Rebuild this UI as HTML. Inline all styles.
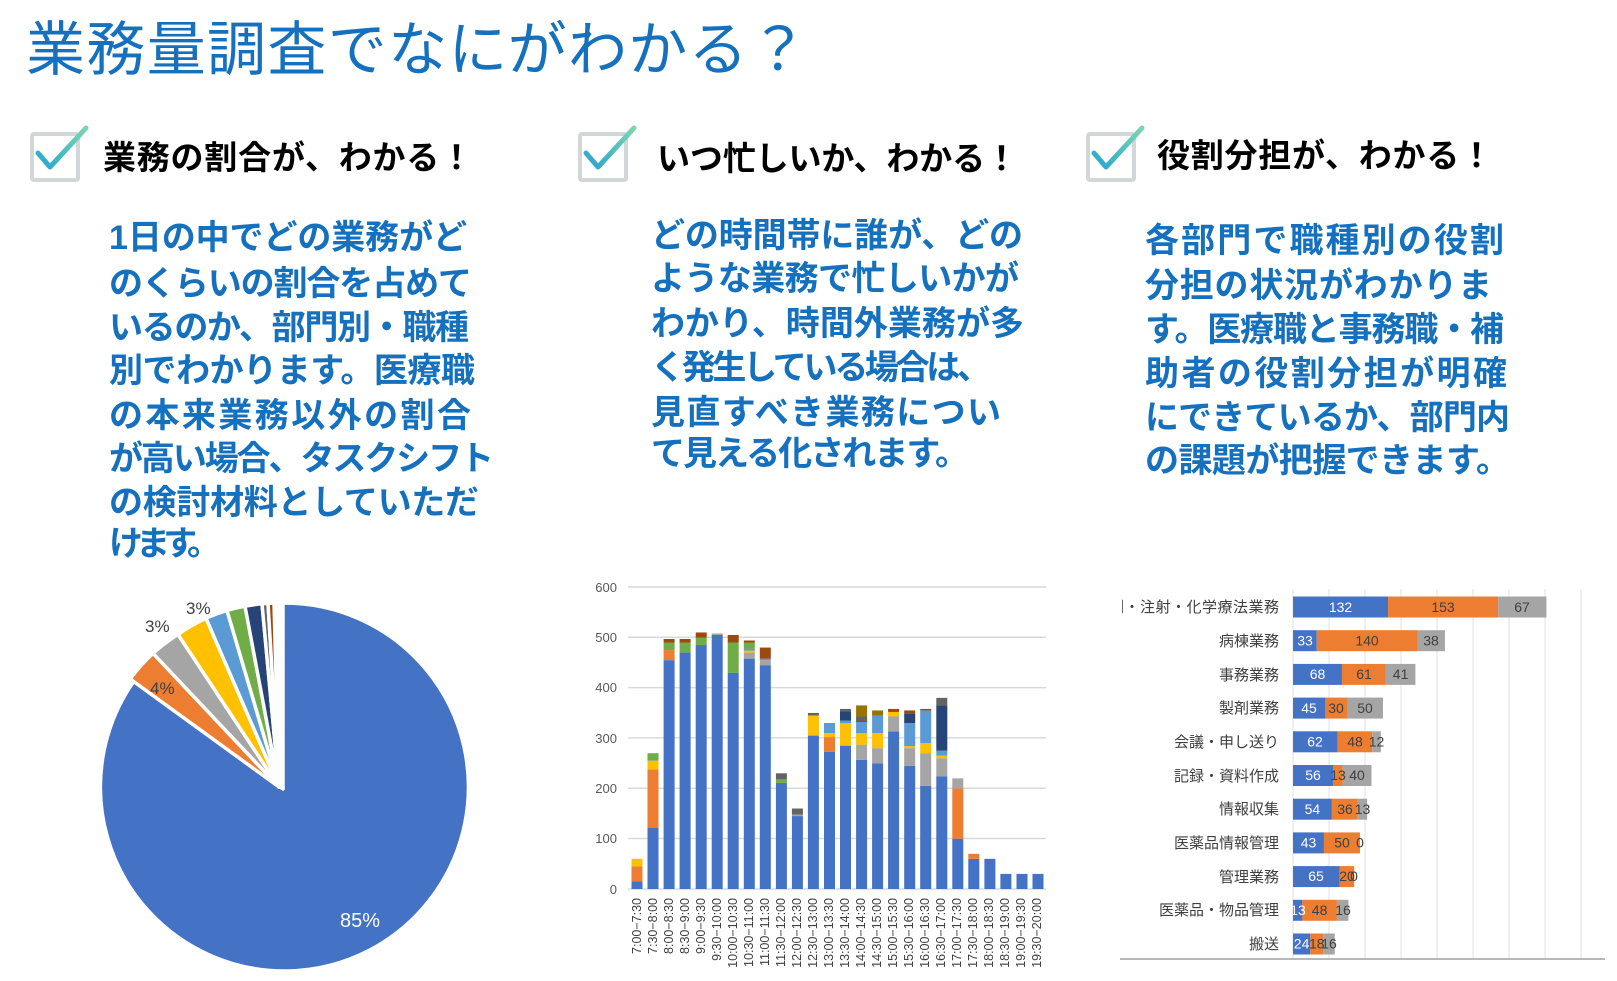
<!DOCTYPE html>
<html><head><meta charset="utf-8"><style>
html,body{margin:0;padding:0;background:#fff;}
svg{display:block;}
text{font-family:"Liberation Sans","Noto Sans CJK JP",sans-serif;}
.b{fill:#1570be;font-weight:bold;font-size:34px;}
.h{fill:#000;font-weight:bold;font-size:33px;}
.ax{fill:#595959;font-size:13px;}
.xl{fill:#404040;font-size:12.5px;}
.cl{fill:#404040;font-size:15px;}
.vw{fill:#fff;font-size:14px;}
.vd{fill:#404040;font-size:14px;}
</style></head><body>
<svg width="1617" height="981" viewBox="0 0 1617 981" xmlns="http://www.w3.org/2000/svg">
<defs>
<linearGradient id="ck" x1="0" y1="1" x2="1" y2="0"><stop offset="0" stop-color="#2aa5cf"/><stop offset="1" stop-color="#7dd6b0"/></linearGradient>
<clipPath id="clip3"><rect x="1122" y="580" width="495" height="401"/></clipPath>
</defs>
<text x="26" y="70" font-size="59" fill="#1570be" textLength="782">業務量調査でなにがわかる？</text>

<g>
<rect x="32" y="134" width="46" height="46" fill="none" stroke="#d3d6d9" stroke-width="4" rx="2"/>
<polyline points="38,153 50,167 86,128" fill="none" stroke="url(#ck)" stroke-width="5" stroke-linecap="round" stroke-linejoin="round"/>
<rect x="580" y="134" width="46" height="46" fill="none" stroke="#d3d6d9" stroke-width="4" rx="2"/>
<polyline points="586,153 598,167 634,128" fill="none" stroke="url(#ck)" stroke-width="5" stroke-linecap="round" stroke-linejoin="round"/>
<rect x="1088" y="134" width="46" height="46" fill="none" stroke="#d3d6d9" stroke-width="4" rx="2"/>
<polyline points="1094,153 1106,167 1142,128" fill="none" stroke="url(#ck)" stroke-width="5" stroke-linecap="round" stroke-linejoin="round"/>
</g>
<text class="h" x="103" y="169" textLength="370">業務の割合が、わかる！</text>
<text class="h" x="657" y="170" textLength="361">いつ忙しいか、わかる！</text>
<text class="h" x="1157" y="167" textLength="336">役割分担が、わかる！</text>

<text class="b" x="109" y="249" textLength="358">1日の中でどの業務がど</text>
<text class="b" x="109" y="295" textLength="363">のくらいの割合を占めて</text>
<text class="b" x="109" y="339" textLength="360">いるのか、部門別・職種</text>
<text class="b" x="109" y="382" textLength="366">別でわかります。医療職</text>
<text class="b" x="109" y="427" textLength="362">の本来業務以外の割合</text>
<text class="b" x="109" y="470" textLength="385">が高い場合、タスクシフト</text>
<text class="b" x="109" y="514" textLength="370">の検討材料としていただ</text>
<text class="b" x="109" y="555" textLength="112">けます。</text>

<text class="b" x="651" y="247" textLength="372">どの時間帯に誰が、どの</text>
<text class="b" x="651" y="290" textLength="368">ような業務で忙しいかが</text>
<text class="b" x="651" y="335" textLength="373">わかり、時間外業務が多</text>
<text class="b" x="651" y="379" textLength="340">く発生している場合は、</text>
<text class="b" x="651" y="424" textLength="350">見直すべき業務につい</text>
<text class="b" x="651" y="465" textLength="318">て見える化されます。</text>

<text class="b" x="1145" y="252" textLength="359">各部門で職種別の役割</text>
<text class="b" x="1145" y="297" textLength="347">分担の状況がわかりま</text>
<text class="b" x="1145" y="341" textLength="359">す。医療職と事務職・補</text>
<text class="b" x="1145" y="385" textLength="362">助者の役割分担が明確</text>
<text class="b" x="1145" y="429" textLength="365">にできているか、部門内</text>
<text class="b" x="1145" y="472" textLength="365">の課題が把握できます。</text>

<g stroke="#fff" stroke-width="3.5" stroke-linejoin="round">
<path d="M283,789 L283,603 A184,184 0 1 1 134.1,680.9 Z" fill="#4472c4"/>
<path d="M279,787 L130.1,678.9 A184,184 0 0 1 153.0,653.3 Z" fill="#ed7d31"/>
<path d="M279,787 L153.0,653.3 A184,184 0 0 1 178.0,634.4 Z" fill="#a5a5a5"/>
<path d="M279,787 L178.0,634.4 A184,184 0 0 1 206.0,618.2 Z" fill="#ffc000"/>
<path d="M279,787 L206.0,618.2 A184,184 0 0 1 227.0,610.5 Z" fill="#5b9bd5"/>
<path d="M279,787 L227.0,610.5 A184,184 0 0 1 245.0,606.2 Z" fill="#70ad47"/>
<path d="M279,787 L245.0,606.2 A184,184 0 0 1 262.0,603.8 Z" fill="#264478"/>
<path d="M279,787 L262.0,603.8 A184,184 0 0 1 268.0,603.3 Z" fill="#636363"/>
<path d="M279,787 L268.0,603.3 A184,184 0 0 1 274.0,603.1 Z" fill="#9e480e"/>
</g>
<text x="340" y="927" font-size="20" fill="#fff">85%</text>
<text x="150" y="694" font-size="17" fill="#404040">4%</text>
<text x="145" y="632" font-size="17" fill="#404040">3%</text>
<text x="186" y="614" font-size="17" fill="#404040">3%</text>

<g stroke="#d9d9d9" stroke-width="1.5">
<line x1="628" y1="587" x2="1046" y2="587"/><line x1="628" y1="637.3" x2="1046" y2="637.3"/>
<line x1="628" y1="687.6" x2="1046" y2="687.6"/><line x1="628" y1="737.9" x2="1046" y2="737.9"/>
<line x1="628" y1="788.2" x2="1046" y2="788.2"/><line x1="628" y1="838.5" x2="1046" y2="838.5"/>
<line x1="628" y1="889" x2="1046" y2="889"/>
</g>
<g class="ax" text-anchor="end">
<text x="617" y="592">600</text><text x="617" y="642">500</text><text x="617" y="692">400</text>
<text x="617" y="743">300</text><text x="617" y="793">200</text><text x="617" y="843">100</text><text x="617" y="894">0</text>
</g>
<g transform="translate(0,889) scale(1,-0.503)">
<rect x="631.5" y="0" width="11" height="15" fill="#4472c4"/><rect x="631.5" y="15" width="11" height="30" fill="#ed7d31"/><rect x="631.5" y="45" width="11" height="15" fill="#ffc000"/>
<rect x="647.5" y="0" width="11" height="122" fill="#4472c4"/><rect x="647.5" y="122" width="11" height="116" fill="#ed7d31"/><rect x="647.5" y="238" width="11" height="17" fill="#ffc000"/><rect x="647.5" y="255" width="11" height="15" fill="#70ad47"/>
<rect x="663.6" y="0" width="11" height="455" fill="#4472c4"/><rect x="663.6" y="455" width="11" height="20" fill="#ed7d31"/><rect x="663.6" y="475" width="11" height="15" fill="#70ad47"/><rect x="663.6" y="490" width="11" height="7" fill="#9e480e"/>
<rect x="679.6" y="0" width="11" height="470" fill="#4472c4"/><rect x="679.6" y="470" width="11" height="20" fill="#70ad47"/><rect x="679.6" y="490" width="11" height="7" fill="#9e480e"/>
<rect x="695.7" y="0" width="11" height="485" fill="#4472c4"/><rect x="695.7" y="485" width="11" height="15" fill="#70ad47"/><rect x="695.7" y="500" width="11" height="10" fill="#9e480e"/>
<rect x="711.7" y="0" width="11" height="505" fill="#4472c4"/><rect x="711.7" y="505" width="11" height="3" fill="#a5a5a5"/>
<rect x="727.7" y="0" width="11" height="430" fill="#4472c4"/><rect x="727.7" y="430" width="11" height="60" fill="#70ad47"/><rect x="727.7" y="490" width="11" height="15" fill="#9e480e"/>
<rect x="743.8" y="0" width="11" height="458" fill="#4472c4"/><rect x="743.8" y="458" width="11" height="12" fill="#a5a5a5"/><rect x="743.8" y="470" width="11" height="4" fill="#ffc000"/><rect x="743.8" y="474" width="11" height="4" fill="#5b9bd5"/><rect x="743.8" y="478" width="11" height="12" fill="#70ad47"/><rect x="743.8" y="490" width="11" height="4" fill="#9e480e"/>
<rect x="759.8" y="0" width="11" height="445" fill="#4472c4"/><rect x="759.8" y="445" width="11" height="10" fill="#a5a5a5"/><rect x="759.8" y="455" width="11" height="3" fill="#5b9bd5"/><rect x="759.8" y="458" width="11" height="22" fill="#9e480e"/>
<rect x="775.9" y="0" width="11" height="211" fill="#4472c4"/><rect x="775.9" y="211" width="11" height="7" fill="#70ad47"/><rect x="775.9" y="218" width="11" height="12" fill="#636363"/>
<rect x="791.9" y="0" width="11" height="145" fill="#4472c4"/><rect x="791.9" y="145" width="11" height="3" fill="#a5a5a5"/><rect x="791.9" y="148" width="11" height="12" fill="#636363"/>
<rect x="807.9" y="0" width="11" height="305" fill="#4472c4"/><rect x="807.9" y="305" width="11" height="40" fill="#ffc000"/><rect x="807.9" y="345" width="11" height="5" fill="#636363"/>
<rect x="824.0" y="0" width="11" height="273" fill="#4472c4"/><rect x="824.0" y="273" width="11" height="29" fill="#ed7d31"/><rect x="824.0" y="302" width="11" height="8" fill="#ffc000"/><rect x="824.0" y="310" width="11" height="20" fill="#5b9bd5"/>
<rect x="840.0" y="0" width="11" height="285" fill="#4472c4"/><rect x="840.0" y="285" width="11" height="45" fill="#ffc000"/><rect x="840.0" y="330" width="11" height="5" fill="#5b9bd5"/><rect x="840.0" y="335" width="11" height="18" fill="#264478"/><rect x="840.0" y="353" width="11" height="5" fill="#636363"/>
<rect x="856.1" y="0" width="11" height="257" fill="#4472c4"/><rect x="856.1" y="257" width="11" height="30" fill="#a5a5a5"/><rect x="856.1" y="287" width="11" height="23" fill="#ffc000"/><rect x="856.1" y="310" width="11" height="22" fill="#5b9bd5"/><rect x="856.1" y="332" width="11" height="3" fill="#9e480e"/><rect x="856.1" y="335" width="11" height="8" fill="#636363"/><rect x="856.1" y="343" width="11" height="22" fill="#997300"/>
<rect x="872.1" y="0" width="11" height="250" fill="#4472c4"/><rect x="872.1" y="250" width="11" height="30" fill="#a5a5a5"/><rect x="872.1" y="280" width="11" height="30" fill="#ffc000"/><rect x="872.1" y="310" width="11" height="35" fill="#5b9bd5"/><rect x="872.1" y="345" width="11" height="10" fill="#997300"/>
<rect x="888.1" y="0" width="11" height="313" fill="#4472c4"/><rect x="888.1" y="313" width="11" height="30" fill="#a5a5a5"/><rect x="888.1" y="343" width="11" height="9" fill="#ffc000"/><rect x="888.1" y="352" width="11" height="6" fill="#9e480e"/>
<rect x="904.2" y="0" width="11" height="245" fill="#4472c4"/><rect x="904.2" y="245" width="11" height="35" fill="#a5a5a5"/><rect x="904.2" y="280" width="11" height="4" fill="#ffc000"/><rect x="904.2" y="284" width="11" height="46" fill="#5b9bd5"/><rect x="904.2" y="330" width="11" height="18" fill="#264478"/><rect x="904.2" y="348" width="11" height="7" fill="#9e480e"/>
<rect x="920.2" y="0" width="11" height="205" fill="#4472c4"/><rect x="920.2" y="205" width="11" height="65" fill="#a5a5a5"/><rect x="920.2" y="270" width="11" height="20" fill="#ffc000"/><rect x="920.2" y="290" width="11" height="65" fill="#5b9bd5"/><rect x="920.2" y="355" width="11" height="3" fill="#9e480e"/>
<rect x="936.3" y="0" width="11" height="224" fill="#4472c4"/><rect x="936.3" y="224" width="11" height="36" fill="#a5a5a5"/><rect x="936.3" y="260" width="11" height="5" fill="#ffc000"/><rect x="936.3" y="265" width="11" height="10" fill="#5b9bd5"/><rect x="936.3" y="275" width="11" height="90" fill="#264478"/><rect x="936.3" y="365" width="11" height="15" fill="#636363"/>
<rect x="952.3" y="0" width="11" height="100" fill="#4472c4"/><rect x="952.3" y="100" width="11" height="100" fill="#ed7d31"/><rect x="952.3" y="200" width="11" height="20" fill="#a5a5a5"/>
<rect x="968.3" y="0" width="11" height="60" fill="#4472c4"/><rect x="968.3" y="60" width="11" height="10" fill="#ed7d31"/>
<rect x="984.4" y="0" width="11" height="60" fill="#4472c4"/>
<rect x="1000.4" y="0" width="11" height="30" fill="#4472c4"/>
<rect x="1016.5" y="0" width="11" height="30" fill="#4472c4"/>
<rect x="1032.5" y="0" width="11" height="30" fill="#4472c4"/>
</g>
<g class="xl" text-anchor="end">
<text transform="translate(641,898) rotate(-90)">7:00−7:30</text>
<text transform="translate(657,898) rotate(-90)">7:30−8:00</text>
<text transform="translate(673,898) rotate(-90)">8:00−8:30</text>
<text transform="translate(689,898) rotate(-90)">8:30−9:00</text>
<text transform="translate(705,898) rotate(-90)">9:00−9:30</text>
<text transform="translate(721,898) rotate(-90)">9:30−10:00</text>
<text transform="translate(737,898) rotate(-90)">10:00−10:30</text>
<text transform="translate(753,898) rotate(-90)">10:30−11:00</text>
<text transform="translate(769,898) rotate(-90)">11:00−11:30</text>
<text transform="translate(785,898) rotate(-90)">11:30−12:00</text>
<text transform="translate(801,898) rotate(-90)">12:00−12:30</text>
<text transform="translate(817,898) rotate(-90)">12:30−13:00</text>
<text transform="translate(833,898) rotate(-90)">13:00−13:30</text>
<text transform="translate(849,898) rotate(-90)">13:30−14:00</text>
<text transform="translate(865,898) rotate(-90)">14:00−14:30</text>
<text transform="translate(881,898) rotate(-90)">14:30−15:00</text>
<text transform="translate(897,898) rotate(-90)">15:00−15:30</text>
<text transform="translate(913,898) rotate(-90)">15:30−16:00</text>
<text transform="translate(929,898) rotate(-90)">16:00−16:30</text>
<text transform="translate(945,898) rotate(-90)">16:30−17:00</text>
<text transform="translate(961,898) rotate(-90)">17:00−17:30</text>
<text transform="translate(977,898) rotate(-90)">17:30−18:00</text>
<text transform="translate(993,898) rotate(-90)">18:00−18:30</text>
<text transform="translate(1009,898) rotate(-90)">18:30−19:00</text>
<text transform="translate(1025,898) rotate(-90)">19:00−19:30</text>
<text transform="translate(1041,898) rotate(-90)">19:30−20:00</text>
</g>

<g stroke="#e0e0e0" stroke-width="1">
<line x1="1293" y1="589" x2="1293" y2="959"/><line x1="1329" y1="589" x2="1329" y2="959"/>
<line x1="1365" y1="589" x2="1365" y2="959"/><line x1="1401" y1="589" x2="1401" y2="959"/>
<line x1="1437" y1="589" x2="1437" y2="959"/><line x1="1473" y1="589" x2="1473" y2="959"/>
<line x1="1509" y1="589" x2="1509" y2="959"/><line x1="1545" y1="589" x2="1545" y2="959"/>
<line x1="1581" y1="589" x2="1581" y2="959"/>
</g>
<line x1="1120" y1="959" x2="1605" y2="959" stroke="#a0a0a0" stroke-width="1.5"/>
<g transform="translate(1293,0) scale(0.72,1)">
<rect x="0" y="596.5" width="132" height="21" fill="#4472c4"/><rect x="132" y="596.5" width="153" height="21" fill="#ed7d31"/><rect x="285" y="596.5" width="67" height="21" fill="#a5a5a5"/>
<rect x="0" y="630.2" width="33" height="21" fill="#4472c4"/><rect x="33" y="630.2" width="140" height="21" fill="#ed7d31"/><rect x="173" y="630.2" width="38" height="21" fill="#a5a5a5"/>
<rect x="0" y="663.9" width="68" height="21" fill="#4472c4"/><rect x="68" y="663.9" width="61" height="21" fill="#ed7d31"/><rect x="129" y="663.9" width="41" height="21" fill="#a5a5a5"/>
<rect x="0" y="697.6" width="45" height="21" fill="#4472c4"/><rect x="45" y="697.6" width="30" height="21" fill="#ed7d31"/><rect x="75" y="697.6" width="50" height="21" fill="#a5a5a5"/>
<rect x="0" y="731.3" width="62" height="21" fill="#4472c4"/><rect x="62" y="731.3" width="48" height="21" fill="#ed7d31"/><rect x="110" y="731.3" width="12" height="21" fill="#a5a5a5"/>
<rect x="0" y="765.0" width="56" height="21" fill="#4472c4"/><rect x="56" y="765.0" width="13" height="21" fill="#ed7d31"/><rect x="69" y="765.0" width="40" height="21" fill="#a5a5a5"/>
<rect x="0" y="798.7" width="54" height="21" fill="#4472c4"/><rect x="54" y="798.7" width="36" height="21" fill="#ed7d31"/><rect x="90" y="798.7" width="13" height="21" fill="#a5a5a5"/>
<rect x="0" y="832.4" width="43" height="21" fill="#4472c4"/><rect x="43" y="832.4" width="50" height="21" fill="#ed7d31"/>
<rect x="0" y="866.1" width="65" height="21" fill="#4472c4"/><rect x="65" y="866.1" width="20" height="21" fill="#ed7d31"/>
<rect x="0" y="899.8" width="13" height="21" fill="#4472c4"/><rect x="13" y="899.8" width="48" height="21" fill="#ed7d31"/><rect x="61" y="899.8" width="16" height="21" fill="#a5a5a5"/>
<rect x="0" y="933.5" width="24" height="21" fill="#4472c4"/><rect x="24" y="933.5" width="18" height="21" fill="#ed7d31"/><rect x="42" y="933.5" width="16" height="21" fill="#a5a5a5"/>
</g>
<g class="cl" text-anchor="end">
<text x="1279" y="612" clip-path="url(#clip3)" textLength="170">剤・注射・化学療法業務</text>
<text x="1279" y="646">病棟業務</text>
<text x="1279" y="680">事務業務</text>
<text x="1279" y="713">製剤業務</text>
<text x="1279" y="747">会議・申し送り</text>
<text x="1279" y="781">記録・資料作成</text>
<text x="1279" y="814">情報収集</text>
<text x="1279" y="848">医薬品情報管理</text>
<text x="1279" y="882">管理業務</text>
<text x="1279" y="915">医薬品・物品管理</text>
<text x="1279" y="949">搬送</text>
</g>
<g text-anchor="middle">
<text class="vw" x="1340.5" y="612">132</text><text class="vd" x="1443" y="612">153</text><text class="vd" x="1522" y="612">67</text>
<text class="vw" x="1305" y="645.5">33</text><text class="vd" x="1367" y="645.5">140</text><text class="vd" x="1431" y="645.5">38</text>
<text class="vw" x="1317.5" y="679">68</text><text class="vd" x="1364" y="679">61</text><text class="vd" x="1400.6" y="679">41</text>
<text class="vw" x="1309" y="713">45</text><text class="vd" x="1336" y="713">30</text><text class="vd" x="1365" y="713">50</text>
<text class="vw" x="1315" y="746.5">62</text><text class="vd" x="1355" y="746.5">48</text><text class="vd" x="1376.5" y="746.5">12</text>
<text class="vw" x="1313" y="780">56</text><text class="vd" x="1338" y="780">13</text><text class="vd" x="1357" y="780">40</text>
<text class="vw" x="1312.4" y="814">54</text><text class="vd" x="1345" y="814">36</text><text class="vd" x="1362.5" y="814">13</text>
<text class="vw" x="1308.5" y="847.5">43</text><text class="vd" x="1342" y="847.5">50</text><text class="vd" x="1360" y="847.5">0</text>
<text class="vw" x="1316" y="881">65</text><text class="vd" x="1347" y="881">20</text><text class="vd" x="1354" y="881">0</text>
<text class="vw" x="1298" y="915">13</text><text class="vd" x="1319.6" y="915">48</text><text class="vd" x="1343" y="915">16</text>
<text class="vw" x="1301.6" y="948.5">24</text><text class="vd" x="1316.8" y="948.5">18</text><text class="vd" x="1329" y="948.5">16</text>
</g>
</svg>
</body></html>
